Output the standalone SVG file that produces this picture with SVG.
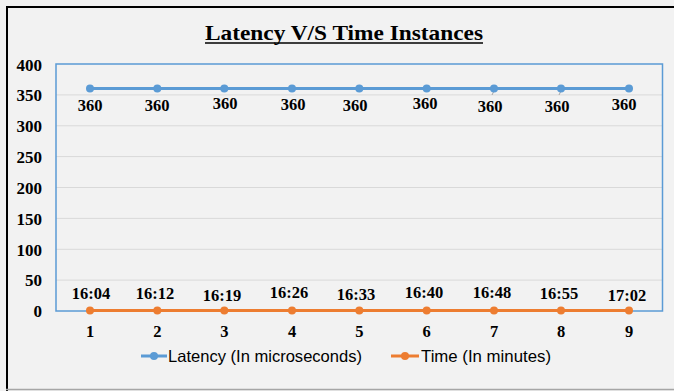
<svg xmlns="http://www.w3.org/2000/svg" width="674" height="391" viewBox="0 0 674 391">
<style>
.num{font-family:"Liberation Serif","Times New Roman",serif;font-weight:bold;font-size:16.5px;fill:#000;text-anchor:middle}
.ylab{font-family:"Liberation Serif","Times New Roman",serif;font-weight:bold;font-size:17px;fill:#000;text-anchor:end}
.title{font-family:"Liberation Serif","Times New Roman",serif;font-weight:bold;font-size:22px;fill:#000;text-anchor:middle}
.leg{font-family:"Liberation Sans",Arial,sans-serif;font-size:16.5px;fill:#000}
.grid{stroke:#d9d9d9;stroke-width:1}
.lat{stroke:#5b9bd5;stroke-width:3;fill:none}
.tim{stroke:#ed7d31;stroke-width:3;fill:none}
.dl{fill:#5b9bd5}
.dt{fill:#ed7d31}
</style>
<rect x="0" y="0" width="674" height="391" fill="#f2f2f2"/>
<line x1="6" y1="7" x2="674" y2="7" stroke="#000" stroke-width="2"/>
<line x1="7" y1="6" x2="7" y2="391" stroke="#000" stroke-width="2"/>
<line x1="6" y1="389.5" x2="674" y2="389.5" stroke="#a6a6a6" stroke-width="1.5"/>

<text class="title" x="344" y="40" textLength="278" lengthAdjust="spacingAndGlyphs">Latency V/S Time Instances</text>
<line x1="205" y1="43" x2="483" y2="43" stroke="#000" stroke-width="1.5"/>

<g id="grid">
<line class="grid" x1="56" y1="94.9" x2="662" y2="94.9"/>
<line class="grid" x1="56" y1="125.8" x2="662" y2="125.8"/>
<line class="grid" x1="56" y1="156.6" x2="662" y2="156.6"/>
<line class="grid" x1="56" y1="187.5" x2="662" y2="187.5"/>
<line class="grid" x1="56" y1="218.4" x2="662" y2="218.4"/>
<line class="grid" x1="56" y1="249.3" x2="662" y2="249.3"/>
<line class="grid" x1="56" y1="280.1" x2="662" y2="280.1"/>
</g>
<rect id="plot" x="56" y="64" width="606.5" height="247" fill="none" stroke="#5b9bd5" stroke-width="1.5"/>

<g id="yaxis">
<text class="ylab" x="42" y="71">400</text>
<text class="ylab" x="42" y="101">350</text>
<text class="ylab" x="42" y="132">300</text>
<text class="ylab" x="42" y="163">250</text>
<text class="ylab" x="42" y="194">200</text>
<text class="ylab" x="42" y="225">150</text>
<text class="ylab" x="42" y="256">100</text>
<text class="ylab" x="42" y="286">50</text>
<text class="ylab" x="42" y="317">0</text>
</g>

<g id="connectors">
<polyline class="lat" points="90,88.5 157.3,88.5 224.3,88.5 292,88.5 359.3,88.5 426.7,88.5 494,88.5 561,88.5 629,88.5"/>
<polyline class="tim" points="90,310.5 157.3,310.5 224.3,310.5 292,310.5 359.3,310.5 426.7,310.5 494,310.5 561,310.5 629,310.5"/>
<line x1="492" y1="95" x2="494.5" y2="90" stroke="#a6a6a6" stroke-width="1"/>
<line x1="559" y1="95" x2="561.5" y2="90" stroke="#a6a6a6" stroke-width="1"/>
</g>

<g id="latency-points">
<circle class="dl" cx="90" cy="88.5" r="4"/>
<circle class="dl" cx="157.3" cy="88.5" r="4"/>
<circle class="dl" cx="224.3" cy="88.5" r="4"/>
<circle class="dl" cx="292" cy="88.5" r="4"/>
<circle class="dl" cx="359.3" cy="88.5" r="4"/>
<circle class="dl" cx="426.7" cy="88.5" r="4"/>
<circle class="dl" cx="494" cy="88.5" r="4"/>
<circle class="dl" cx="561" cy="88.5" r="4"/>
<circle class="dl" cx="629" cy="88.5" r="4"/>
</g>
<g id="time-points">
<circle class="dt" cx="90" cy="310.5" r="4"/>
<circle class="dt" cx="157.3" cy="310.5" r="4"/>
<circle class="dt" cx="224.3" cy="310.5" r="4"/>
<circle class="dt" cx="292" cy="310.5" r="4"/>
<circle class="dt" cx="359.3" cy="310.5" r="4"/>
<circle class="dt" cx="426.7" cy="310.5" r="4"/>
<circle class="dt" cx="494" cy="310.5" r="4"/>
<circle class="dt" cx="561" cy="310.5" r="4"/>
<circle class="dt" cx="629" cy="310.5" r="4"/>
</g>

<g id="latency-labels">
<text class="num" x="90" y="111">360</text>
<text class="num" x="157" y="111">360</text>
<text class="num" x="225" y="109">360</text>
<text class="num" x="293" y="110">360</text>
<text class="num" x="355" y="111">360</text>
<text class="num" x="425" y="109">360</text>
<text class="num" x="490" y="112">360</text>
<text class="num" x="557" y="112">360</text>
<text class="num" x="624" y="110">360</text>
</g>
<g id="time-labels">
<text class="num" x="91" y="299">16:04</text>
<text class="num" x="155" y="299">16:12</text>
<text class="num" x="222" y="301">16:19</text>
<text class="num" x="289" y="298">16:26</text>
<text class="num" x="356" y="300">16:33</text>
<text class="num" x="424" y="298">16:40</text>
<text class="num" x="492" y="298">16:48</text>
<text class="num" x="559" y="299">16:55</text>
<text class="num" x="627" y="301">17:02</text>
</g>

<g id="xaxis">
<text class="num" x="90" y="337">1</text>
<text class="num" x="157.3" y="337">2</text>
<text class="num" x="224.3" y="337">3</text>
<text class="num" x="292" y="337">4</text>
<text class="num" x="359.3" y="337">5</text>
<text class="num" x="426.7" y="337">6</text>
<text class="num" x="494" y="337">7</text>
<text class="num" x="561" y="337">8</text>
<text class="num" x="629" y="337">9</text>
</g>

<g id="legend">
<line class="lat" x1="141" y1="356" x2="167" y2="356"/>
<circle class="dl" cx="154" cy="356" r="4"/>
<text class="leg" x="168" y="362" textLength="194" lengthAdjust="spacingAndGlyphs">Latency (In microseconds)</text>
<line class="tim" x1="391" y1="356" x2="419" y2="356"/>
<circle class="dt" cx="405" cy="356" r="4"/>
<text class="leg" x="421" y="362" textLength="130" lengthAdjust="spacingAndGlyphs">Time (In minutes)</text>
</g>
</svg>
